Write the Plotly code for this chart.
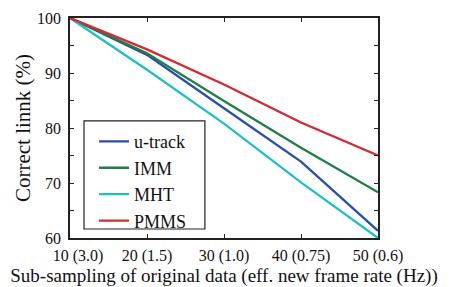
import plotly.graph_objects as go

x_vals = [10, 20, 30, 40, 50]
x_labels = ["\u00a0\u00a0\u00a0\u00a010 (3.0)", "20 (1.5)", "30 (1.0)", "40 (0.75)", "50 (0.6)"]
utrack = [100, 93.3, 83.6, 73.9, 61.3]
imm = [100, 93.6, 84.9, 76.4, 68.3]
mht = [100, 90.6, 80.8, 70.1, 60.0]
pmms = [100, 94.3, 87.9, 81.0, 75.0]

series = [
    ("u-track", utrack, "#2a4fa8"),
    ("IMM", imm, "#1f7f45"),
    ("MHT", mht, "#1ec0c2"),
    ("PMMS", pmms, "#d42a30"),
]

fig = go.Figure()
for name, vals, col in series:
    fig.add_trace(go.Scatter(x=x_vals, y=vals, mode="lines", name=name,
                             line=dict(color=col, width=2.3)))

font = "Liberation Serif, Times New Roman, serif"
axis_common = dict(showline=True, linecolor="#222", linewidth=1.5, mirror="allticks",
                   ticks="inside", ticklen=4, tickcolor="#222", tickwidth=1.2,
                   showgrid=False, zeroline=False, automargin=False,
                   tickfont=dict(family=font, size=16, color="#111"))

# legend frame (layout decoration)
fig.add_shape(type="rect", xref="x domain", yref="y domain",
              x0=0.0455, x1=0.438, y0=0.041, y1=0.532,
              line=dict(color="#222", width=1.2), fillcolor="white", layer="above")

fig.update_layout(
    width=451, height=279,
    margin=dict(l=62, r=81, t=10, b=49),
    plot_bgcolor="white", paper_bgcolor="white",
    font=dict(family=font, color="#111"),
    showlegend=True,
    legend=dict(x=0.078, y=0.522, xanchor="left", yanchor="top",
                borderwidth=0, bgcolor="rgba(0,0,0,0)",
                font=dict(family=font, size=18, color="#111"),
                tracegroupgap=0, itemwidth=30),
    xaxis=dict(range=[10, 50], tickvals=x_vals, ticktext=x_labels,
               ticklabelstandoff=2,
               title=dict(text="Sub-sampling of original data (eff. new frame rate (Hz))",
                          font=dict(family=font, size=19, color="#111"), standoff=5),
               **axis_common),
    yaxis=dict(range=[60, 100], tickvals=[60, 70, 80, 90, 100],
               minor=dict(tickvals=[65, 75, 85, 95], ticks="inside", ticklen=4,
                          tickcolor="#222", tickwidth=1.2),
               ticklabelstandoff=4,
               title=dict(text="Correct linnk (%)",
                          font=dict(family=font, size=21, color="#111"), standoff=1),
               **axis_common),
)

fig.write_html("out.html")
